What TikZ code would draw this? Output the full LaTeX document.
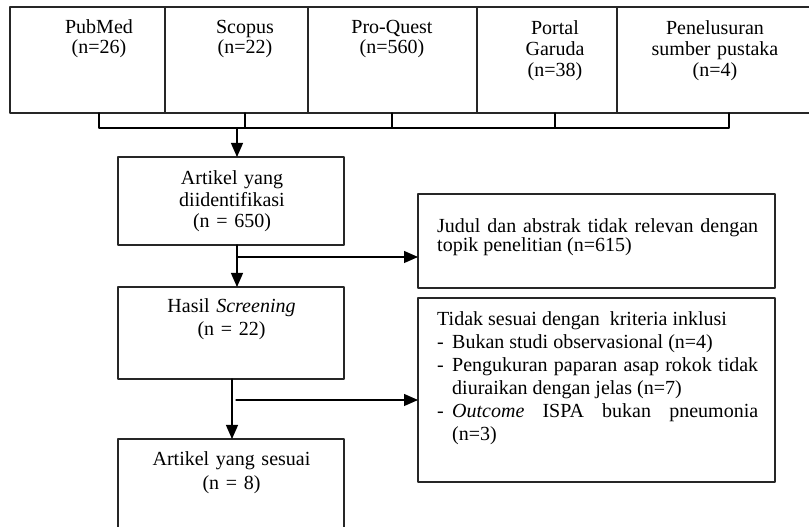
\documentclass[tikz,border=0pt]{standalone}
\usepackage{fontspec}
\setmainfont{Liberation Serif}
\usetikzlibrary{arrows.meta}
\usetikzlibrary{positioning}

\tikzset{
  srcbox/.style={draw=black!85, line width=1.2pt, minimum height=106pt, inner sep=0pt, outer sep=0pt},
  stagebox/.style={draw=black!85, line width=1.2pt, minimum width=226pt, inner sep=0pt, outer sep=0pt},
  exclbox/.style={draw=black!85, line width=1.2pt, minimum width=357pt, inner sep=0pt, outer sep=0pt},
  ctxt/.style={text width=190pt, align=center, inner sep=0pt, anchor=base, font=\fontsize{20}{19.5}\selectfont},
  ltxt/.style={text width=321pt, align=justify, inner sep=0pt, anchor=base west, font=\fontsize{20}{19}\selectfont},
}

\begin{document}
\begin{tikzpicture}[line cap=round,line join=round,>={Triangle[length=14pt,width=12pt]},x=1pt,y=1pt]
      \useasboundingbox (0,0) rectangle (809,527);
      \clip (0,0) rectangle (809,527);
      % sumber pencarian
      \node[srcbox, minimum width=155pt, anchor=north west] (pubmed) at (10,520) {};
      \node[srcbox, minimum width=143pt, right=0pt of pubmed] (scopus) {};
      \node[srcbox, minimum width=169pt, right=0pt of scopus] (proquest) {};
      \node[srcbox, minimum width=140pt, right=0pt of proquest] (garuda) {};
      \node[srcbox, minimum width=200pt, right=0pt of garuda] (pustaka) {};
      \node[ctxt] (pubmedtxt) at ([xshift=11.5pt,yshift=-27pt]pubmed.north) {PubMed\\(n=26)};
      \node[ctxt] (scopustxt) at ([xshift=8.5pt,yshift=-27pt]scopus.north) {Scopus\\(n=22)};
      \node[ctxt] (proquesttxt) at ([xshift=-0.5pt,yshift=-27pt]proquest.north) {Pro-Quest\\(n=560)};
      \node[ctxt, font=\fontsize{20}{21}\selectfont] (garudatxt) at ([xshift=8pt,yshift=-28pt]garuda.north) {Portal\\Garuda\\(n=38)};
      \node[ctxt, font=\fontsize{20}{21}\selectfont] (pustakatxt) at ([xshift=-2pt,yshift=-28pt]pustaka.north) {Penelusuran\\sumber pustaka\\(n=4)};
      % tahapan
      \node[stagebox, minimum height=88pt] (ident) at (231,326) {};
      \node[stagebox, minimum height=92pt, below=42pt of ident] (screen) {};
      \node[stagebox, minimum height=100pt, below=60pt of screen] (sesuai) {};
      \node[ctxt, font=\fontsize{20}{21.5}\selectfont] (identtxt) at ([xshift=1pt,yshift=-28pt]ident.north) {Artikel yang\\diidentifikasi\\(n = 650)};
      \node[ctxt, font=\fontsize{20}{23}\selectfont] (screentxt) at ([xshift=0.5pt,yshift=-26pt]screen.north) {Hasil \textit{Screening}\\(n = 22)};
      \node[ctxt, font=\fontsize{20}{24}\selectfont] (sesuaitxt) at ([xshift=0.5pt,yshift=-27pt]sesuai.north) {Artikel yang sesuai\\(n = 8)};
      % eksklusi
      \node[exclbox, minimum height=94pt] (excla) at (596.5,286) {};
      \node[exclbox, minimum height=184pt, below=10pt of excla] (exclb) {};
      \node[ltxt] (exclatxt) at ([xshift=19pt,yshift=-39pt]excla.north west) {Judul dan abstrak tidak relevan dengan\linebreak topik penelitian (n=615)};
      \node[ltxt, font=\fontsize{20}{23}\selectfont] (exclbtxt) at ([xshift=19pt,yshift=-28pt]exclb.north west) {Tidak sesuai dengan\ \ kriteria inklusi\par
        \hangindent=15pt\hangafter=1\makebox[15pt][l]{-}Bukan studi observasional (n=4)\par
        \hangindent=15pt\hangafter=1\makebox[15pt][l]{-}Pengukuran paparan asap rokok tidak\linebreak diuraikan dengan jelas (n=7)\par
        \hangindent=15pt\hangafter=1\makebox[15pt][l]{-}\textit{Outcome} ISPA bukan pneumonia\linebreak (n=3)\par};
      % penghubung
      \coordinate (jn) at ([xshift=6pt,yshift=29pt]ident.north);
      \draw[line width=1.2pt] ([xshift=11.5pt]pubmed.south) |- ([xshift=12pt]pustaka.south |- jn) -- ([xshift=12pt]pustaka.south);
      \foreach \b/\dx in {scopus/8.5, proquest/-0.5, garuda/8}
        \draw[line width=1.2pt] ([xshift=\dx pt]\b.south) -- ([xshift=\dx pt]\b.south |- jn);
      \draw[->,line width=1.2pt] (jn) -- (jn |- ident.north);
      \draw[->,line width=1.2pt] ([xshift=6pt]ident.south) -- ([xshift=6pt]ident.south |- screen.north);
      \draw[->,line width=1.2pt] ([xshift=6pt,yshift=-12pt]ident.south) -- ([yshift=-12pt]ident.south -| excla.west);
      \draw[->,line width=1.2pt] ([xshift=1pt]screen.south) -- ([xshift=1pt]screen.south |- sesuai.north);
      \draw[->,line width=1.2pt] ([xshift=5pt,yshift=-21pt]screen.south) -- ([yshift=-21pt]screen.south -| exclb.west);
    \end{tikzpicture}
\end{document}
